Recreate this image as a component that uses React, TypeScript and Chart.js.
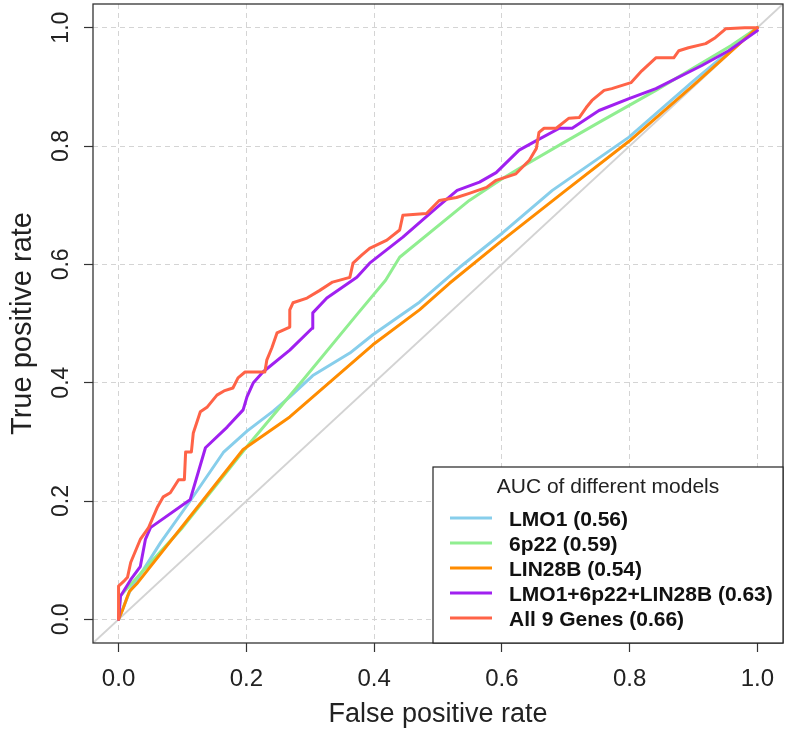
import React, { useEffect, useRef } from 'react';
import { Chart, registerables } from 'chart.js';

Chart.register(...registerables);

// Axis ticks
const xTickValues = [0, 0.2, 0.4, 0.6, 0.8, 1.0];
const xTickLabels = ['0.0', '0.2', '0.4', '0.6', '0.8', '1.0'];
const yTickValues = [0, 0.2, 0.4, 0.6, 0.8, 1.0];
const yTickLabels = ['0.0', '0.2', '0.4', '0.6', '0.8', '1.0'];

const xTitle = 'False positive rate';
const yTitle = 'True positive rate';
const legendTitle = 'AUC of different models';

const seriesLabels = ['LMO1 (0.56)', '6p22 (0.59)', 'LIN28B (0.54)', 'LMO1+6p22+LIN28B (0.63)', 'All 9 Genes (0.66)'];
const seriesColors = ['#87CEEB', '#90EE90', '#FF8C00', '#A020F0', '#FF6347'];

// LMO1
const lmo1Fpr = [0, 0.019, 0.039, 0.066, 0.112, 0.164, 0.201, 0.242, 0.268, 0.304, 0.362, 0.398, 0.471, 0.534, 0.601, 0.679, 0.799, 0.9, 1.0];
const lmo1Tpr = [0, 0.051, 0.084, 0.13, 0.2, 0.282, 0.318, 0.352, 0.376, 0.412, 0.45, 0.481, 0.536, 0.595, 0.653, 0.725, 0.815, 0.91, 1.0];

// 6p22
const p22Fpr = [0, 0.003, 0.02, 0.1, 0.201, 0.289, 0.373, 0.418, 0.44, 0.549, 0.601, 0.627, 0.694, 0.752, 0.841, 0.959, 1.0];
const p22Tpr = [0, 0.04, 0.06, 0.155, 0.292, 0.405, 0.515, 0.573, 0.612, 0.708, 0.745, 0.762, 0.804, 0.84, 0.894, 0.97, 1.0];

// LIN28B
const lin28bFpr = [0, 0.006, 0.014, 0.017, 0.03, 0.195, 0.268, 0.398, 0.471, 0.518, 0.601, 0.7, 0.799, 0.9, 1.0];
const lin28bTpr = [0, 0.015, 0.039, 0.047, 0.062, 0.287, 0.342, 0.464, 0.523, 0.568, 0.641, 0.725, 0.808, 0.903, 1.0];

// LMO1+6p22+LIN28B
const comboFpr = [0, 0.003, 0.019, 0.034, 0.042, 0.05, 0.108, 0.112, 0.136, 0.17, 0.195, 0.201, 0.211, 0.226, 0.268, 0.303, 0.304, 0.326, 0.373, 0.393, 0.445, 0.498, 0.53, 0.565, 0.591, 0.627, 0.654, 0.69, 0.71, 0.752, 0.799, 0.841, 0.913, 0.955, 1.0];
const comboTpr = [0, 0.039, 0.067, 0.089, 0.135, 0.155, 0.199, 0.202, 0.29, 0.325, 0.354, 0.376, 0.4, 0.418, 0.455, 0.492, 0.518, 0.543, 0.578, 0.602, 0.646, 0.696, 0.725, 0.739, 0.755, 0.793, 0.809, 0.83, 0.83, 0.86, 0.88, 0.897, 0.936, 0.961, 0.995];

// All 9 Genes
const all9Fpr = [0, 0, 0.008, 0.014, 0.019, 0.034, 0.047, 0.061, 0.07, 0.081, 0.094, 0.103, 0.105, 0.114, 0.117, 0.128, 0.139, 0.154, 0.165, 0.179, 0.187, 0.198, 0.229, 0.232, 0.24, 0.248, 0.268, 0.268, 0.273, 0.295, 0.315, 0.335, 0.362, 0.367, 0.381, 0.393, 0.42, 0.44, 0.445, 0.482, 0.502, 0.529, 0.549, 0.576, 0.591, 0.622, 0.632, 0.643, 0.654, 0.658, 0.666, 0.685, 0.705, 0.721, 0.732, 0.741, 0.76, 0.772, 0.802, 0.819, 0.841, 0.869, 0.877, 0.892, 0.919, 0.934, 0.947, 0.95, 0.98, 1.0];
const all9Tpr = [0, 0.056, 0.064, 0.071, 0.096, 0.135, 0.155, 0.19, 0.207, 0.214, 0.236, 0.236, 0.283, 0.283, 0.315, 0.351, 0.359, 0.379, 0.386, 0.391, 0.408, 0.418, 0.418, 0.438, 0.459, 0.484, 0.494, 0.523, 0.535, 0.543, 0.556, 0.57, 0.578, 0.602, 0.616, 0.627, 0.641, 0.658, 0.683, 0.686, 0.708, 0.713, 0.72, 0.73, 0.742, 0.753, 0.764, 0.776, 0.796, 0.823, 0.83, 0.83, 0.847, 0.848, 0.865, 0.877, 0.894, 0.897, 0.907, 0.927, 0.949, 0.949, 0.961, 0.966, 0.973, 0.983, 0.995, 0.998, 1.0, 1.0];

// Reference diagonal
const diagX = [-0.1, 1.1];
const diagY = [-0.1, 1.1];

const toPoints = (xs: number[], ys: number[]) => xs.map((x, i) => ({ x, y: ys[i] }));

const FONT = '"Liberation Sans", Arial, sans-serif';

const decorPlugin = {
  id: 'decor',
  afterDraw(chart: any) {
    const { ctx, chartArea, scales } = chart;
    const xs = scales.x;
    const ys = scales.y;
    ctx.save();
    // plot box
    ctx.strokeStyle = '#333';
    ctx.lineWidth = 1.3;
    ctx.strokeRect(chartArea.left, chartArea.top, chartArea.right - chartArea.left, chartArea.bottom - chartArea.top);

    // x tick labels
    ctx.fillStyle = '#222';
    ctx.font = `24px ${FONT}`;
    ctx.textAlign = 'center';
    ctx.textBaseline = 'alphabetic';
    xTickValues.forEach((v, i) => {
      ctx.fillText(xTickLabels[i], xs.getPixelForValue(v), 686);
    });
    // y tick labels (rotated)
    ctx.font = `23px ${FONT}`;
    yTickValues.forEach((v, i) => {
      ctx.save();
      ctx.translate(68, ys.getPixelForValue(v));
      ctx.rotate(-Math.PI / 2);
      ctx.fillText(yTickLabels[i], 0, 0);
      ctx.restore();
    });
    // axis titles
    ctx.font = `27px ${FONT}`;
    ctx.fillText(xTitle, (chartArea.left + chartArea.right) / 2, 722);
    ctx.save();
    ctx.font = `29px ${FONT}`;
    ctx.translate(31, (chartArea.top + chartArea.bottom) / 2);
    ctx.rotate(-Math.PI / 2);
    ctx.fillText(yTitle, 0, 0);
    ctx.restore();

    // legend
    const lx = 433, ly = 467, lr = chartArea.right, lb = chartArea.bottom;
    ctx.fillStyle = '#fff';
    ctx.fillRect(lx, ly, lr - lx, lb - ly);
    ctx.strokeStyle = '#222';
    ctx.lineWidth = 1.2;
    ctx.strokeRect(lx, ly, lr - lx, lb - ly);
    ctx.fillStyle = '#222';
    ctx.font = `21px ${FONT}`;
    ctx.textAlign = 'center';
    ctx.textBaseline = 'middle';
    ctx.fillText(legendTitle, (lx + lr) / 2, 487);
    ctx.textAlign = 'left';
    ctx.font = `bold 21px ${FONT}`;
    seriesLabels.forEach((lab, i) => {
      const yy = 518 + i * 25;
      ctx.strokeStyle = seriesColors[i];
      ctx.lineWidth = 3;
      ctx.beginPath();
      ctx.moveTo(450, yy);
      ctx.lineTo(492, yy);
      ctx.stroke();
      ctx.fillStyle = '#111';
      ctx.fillText(lab, 509, yy + 2);
    });
    ctx.restore();
  },
};

export default function App() {
  const canvasRef = useRef<HTMLCanvasElement | null>(null);
  useEffect(() => {
    const canvas = canvasRef.current;
    if (!canvas) return;
    const seriesData = [
      toPoints(lmo1Fpr, lmo1Tpr),
      toPoints(p22Fpr, p22Tpr),
      toPoints(lin28bFpr, lin28bTpr),
      toPoints(comboFpr, comboTpr),
      toPoints(all9Fpr, all9Tpr),
    ];
    const datasets: any[] = seriesData.map((d, i) => ({
      label: seriesLabels[i],
      data: d,
      borderColor: seriesColors[i],
      backgroundColor: seriesColors[i],
      borderWidth: 3,
      pointRadius: 0,
      tension: 0,
      fill: false,
      borderJoinStyle: 'round',
      borderCapStyle: 'round',
      order: 5 - i,
    }));
    datasets.push({
      label: 'diagonal',
      data: toPoints(diagX, diagY),
      borderColor: '#D3D3D3',
      borderWidth: 2,
      pointRadius: 0,
      fill: false,
      clip: 0,
      order: 10,
    });
    const gridCommon = {
      color: '#d4d4d4',
      lineWidth: 1,
      tickColor: '#333',
      tickLength: 9,
      tickWidth: 1.2,
      drawTicks: true,
    };
    const chart = new Chart(canvas, {
      type: 'line',
      data: { datasets },
      options: {
        animation: false,
        responsive: false,
        maintainAspectRatio: false,
        layout: { padding: { top: 4, right: 5, left: 0, bottom: 0 } },
        plugins: { legend: { display: false }, tooltip: { enabled: false } },
        scales: {
          x: {
            type: 'linear',
            min: -0.04,
            max: 1.04,
            afterBuildTicks: (s: any) => {
              s.ticks = xTickValues.map((v) => ({ value: v }));
            },
            afterFit: (s: any) => {
              s.height = 87;
            },
            grid: gridCommon,
            border: { display: false, dash: [5, 4] },
            ticks: { display: false },
          },
          y: {
            type: 'linear',
            min: -0.04,
            max: 1.04,
            afterBuildTicks: (s: any) => {
              s.ticks = yTickValues.map((v) => ({ value: v }));
            },
            afterFit: (s: any) => {
              s.width = 93;
            },
            grid: gridCommon,
            border: { display: false, dash: [5, 4] },
            ticks: { display: false },
          },
        },
      } as any,
      plugins: [decorPlugin],
    });
    return () => chart.destroy();
  }, []);
  return (
    <canvas
      ref={canvasRef}
      width={788}
      height={730}
      style={{ position: 'absolute', left: 0, top: 0, width: 788, height: 730, background: '#fff' }}
    />
  );
}
